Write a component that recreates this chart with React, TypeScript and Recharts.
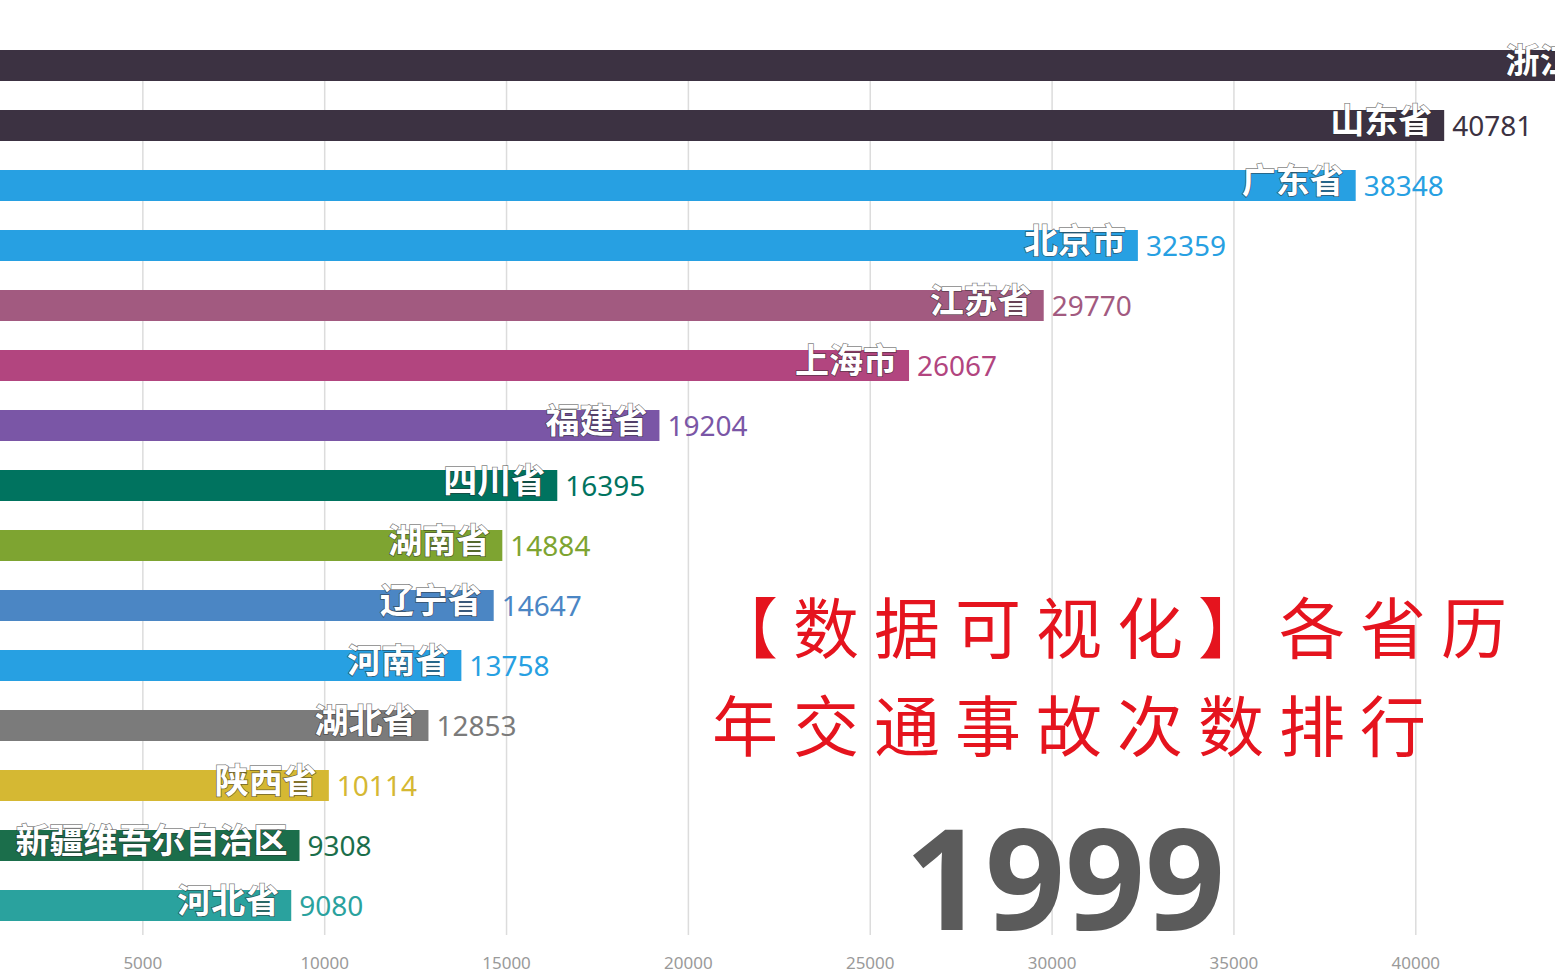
import { BarChart, Bar, XAxis, YAxis, CartesianGrid, Cell, LabelList } from 'recharts';

// 省份（按事故次数排序）
const provinces = [
  '浙江省', '山东省', '广东省', '北京市', '江苏省', '上海市', '福建省', '四川省',
  '湖南省', '辽宁省', '河南省', '湖北省', '陕西省', '新疆维吾尔自治区', '河北省',
];

// 1999年交通事故次数（浙江省超出画面，估计值）
const accidents = [
  45600, 40781, 38348, 32359, 29770, 26067, 19204, 16395,
  14884, 14647, 13758, 12853, 10114, 9308, 9080,
];

const barColors = [
  '#3c3242', '#3c3242', '#27a0e2', '#27a0e2', '#a25a80', '#b2457f', '#7a56a6', '#00735f',
  '#7ea431', '#4b86c4', '#27a0e2', '#7b7b7b', '#d5b833', '#1b6e4b', '#2aa29e',
];

const xTicks = [5000, 10000, 15000, 20000, 25000, 30000, 35000, 40000];

const titleLines = ['【数据可视化】各省历', '年交通事故次数排行'];
const yearText = '1999';

const data = provinces.map((name, i) => ({ name, value: accidents[i], color: barColors[i] }));

/**
 * 棒の中に省名、棒の右に数値
 */
function BarLabel(props: any) {
  const { x, y, width, height, index } = props;
  const d = data[index];
  if (!d) return null;
  const cy = y + height / 2;
  return (
    <g>
      <text
        x={x + width - 12}
        y={cy - 7}
        textAnchor="end"
        dominantBaseline="central"
        fill="#fff"
        stroke="rgba(40,40,40,0.6)"
        strokeWidth={1.5}
        paintOrder="stroke"
        style={{ fontFamily: '"Noto Sans CJK SC", sans-serif', fontSize: 34, fontWeight: 700 }}
      >
        {d.name}
      </text>
      <text
        x={x + width + 8}
        y={cy - 1}
        textAnchor="start"
        dominantBaseline="central"
        fill={d.color}
        style={{ fontFamily: '"Noto Sans", sans-serif', fontSize: 28, fontWeight: 400 }}
      >
        {d.value}
      </text>
    </g>
  );
}

export default function App() {
  return (
    <div
      style={{
        position: 'absolute',
        left: 0,
        top: 0,
        width: 1555,
        height: 972,
        overflow: 'hidden',
        background: '#fff',
      }}
    >
      <div style={{ position: 'absolute', left: -39, top: 0 }}>
        <BarChart
          width={1673}
          height={972}
          data={data}
          layout="vertical"
          margin={{ top: 35, right: 0, bottom: 0, left: 0 }}
          barCategoryGap={0}
        >
          <CartesianGrid horizontal={false} stroke="#dcdcdc" strokeWidth={1.5} y={50} height={885} />
          <XAxis
            type="number"
            domain={[0, 46000]}
            ticks={xTicks}
            axisLine={false}
            tickLine={false}
            height={37}
            tickMargin={16}
            tick={{ fontSize: 17, fill: '#9a9a9a', fontFamily: '"Noto Sans", sans-serif' }}
          />
          <YAxis type="category" dataKey="name" hide />
          <Bar dataKey="value" barSize={31} isAnimationActive={false}>
            {data.map((entry, index) => (
              <Cell key={`cell-${index}`} fill={entry.color} />
            ))}
            <LabelList dataKey="value" content={<BarLabel />} />
          </Bar>
        </BarChart>
      </div>
      {titleLines.map((line, i) => (
        <div
          key={line}
          style={{
            position: 'absolute',
            left: 712,
            top: 591 + i * 98,
            fontFamily: '"Noto Sans CJK SC", sans-serif',
            fontSize: 66,
            lineHeight: '66px',
            letterSpacing: 15,
            color: '#e5141e',
            whiteSpace: 'nowrap',
          }}
        >
          {line}
        </div>
      ))}
      <div
        style={{
          position: 'absolute',
          left: 865,
          top: 816,
          width: 400,
          textAlign: 'center',
          fontFamily: '"Noto Sans", sans-serif',
          fontSize: 140,
          fontWeight: 700,
          lineHeight: '120px',
          color: '#5b5b5b',
        }}
      >
        {yearText}
      </div>
    </div>
  );
}
